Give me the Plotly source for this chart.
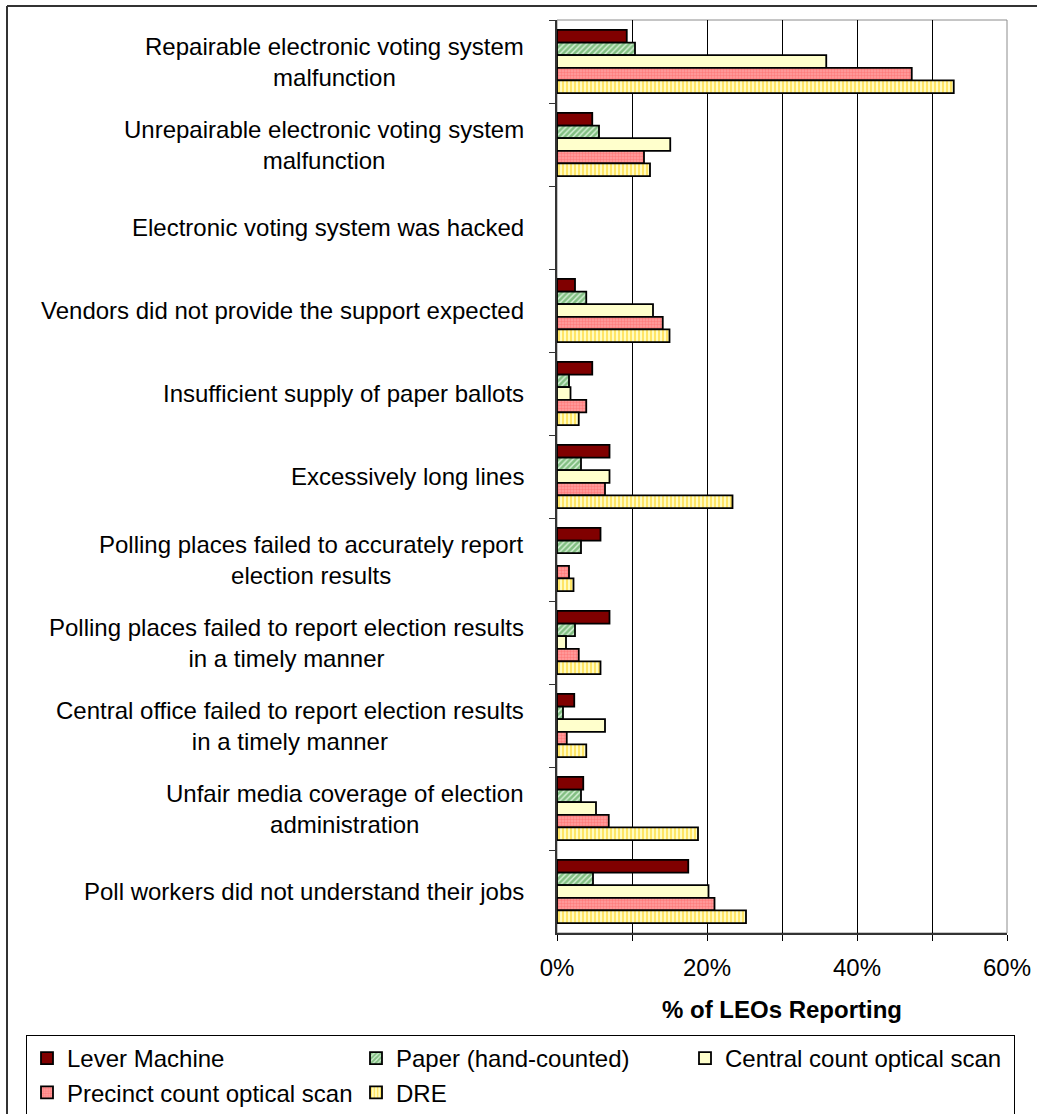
import plotly.graph_objects as go

categories = [
    "Repairable electronic voting system<br>malfunction",
    "Unrepairable electronic voting system<br>malfunction",
    "Electronic voting system was hacked",
    "Vendors did not provide the support expected",
    "Insufficient supply of paper ballots",
    "Excessively long lines",
    "Polling places failed to accurately report<br>election results",
    "Polling places failed to report election results<br>in a timely manner",
    "Central office failed to report election results<br>in a timely manner",
    "Unfair media coverage of election<br>administration",
    "Poll workers did not understand their jobs",
]

series_names = [
    "Lever Machine",
    "Paper (hand-counted)",
    "Central count optical scan",
    "Precinct count optical scan",
    "DRE",
]

lever = [9.3, 4.7, 0, 2.4, 4.7, 7.0, 5.8, 7.0, 2.3, 3.5, 17.5]
paper = [10.4, 5.6, 0, 3.9, 1.6, 3.2, 3.2, 2.4, 0.8, 3.2, 4.8]
central = [35.9, 15.1, 0, 12.8, 1.8, 7.0, 0, 1.2, 6.4, 5.2, 20.2]
precinct = [47.3, 11.6, 0, 14.1, 3.9, 6.4, 1.6, 2.9, 1.3, 6.9, 21.0]
dre = [52.9, 12.4, 0, 15.0, 2.9, 23.4, 2.2, 5.8, 3.9, 18.8, 25.2]

x_tickvals = [0, 10, 20, 30, 40, 50, 60]
x_ticktext = ["0%", "", "20%", "", "40%", "", "60%"]

FONT = "Liberation Sans, Arial, sans-serif"

styles = [
    dict(color="#800000"),
    dict(color="#FFFFFF", pattern=dict(shape="/", fgcolor="#2E8B2E", bgcolor="#D8F2D8", size=4, solidity=0.65)),
    dict(color="#FFFFCC"),
    dict(color="#FF8080", pattern=dict(shape=".", fgcolor="#FF5A5A", bgcolor="#FFA0A0", size=3, solidity=0.5)),
    dict(color="#FFFFFF", pattern=dict(shape="|", fgcolor="#FFCC00", bgcolor="#FFFFCC", size=4, solidity=0.55)),
]

values = [lever, paper, central, precinct, dre]

fig = go.Figure()
for name, vals, st in zip(series_names, values, styles):
    marker = dict(line=dict(color="#000000", width=[0 if v == 0 else 1.8 for v in vals]))
    marker.update(st)
    fig.add_trace(go.Bar(
        name=name, y=categories, x=vals, orientation="h", marker=marker,
    ))

annotations = []
for c in categories:
    annotations.append(dict(
        x=0, xref="paper", xanchor="right", xshift=-31,
        y=c, yref="y", text=c, showarrow=False, align="center",
        font=dict(family=FONT, size=24, color="#000000"),
    ))

L, R, T, B = 557, 30, 20, 181
W, H = 1037, 1114
pw = W - L - R
ph = H - T - B

def px_x(p):
    return (p - L) / pw

def px_y(p):
    return (H - B - p) / ph

shapes = [
    # plot area border (grey)
    dict(type="rect", xref="paper", yref="paper", x0=0, x1=1, y0=0, y1=1,
         line=dict(color="#8C8C8C", width=1), layer="below"),
    # outer chart border (left and top edges; the rest lies outside the page)
    dict(type="line", xref="paper", yref="paper",
         x0=px_x(7), x1=px_x(7), y0=px_y(1125), y1=px_y(6),
         line=dict(color="#333333", width=2), layer="above"),
    dict(type="line", xref="paper", yref="paper",
         x0=px_x(7), x1=px_x(1045), y0=px_y(6), y1=px_y(6),
         line=dict(color="#333333", width=2), layer="above"),
]

fig.update_layout(
    width=W, height=H,
    margin=dict(l=L, r=R, t=T, b=B, autoexpand=False),
    paper_bgcolor="#FFFFFF", plot_bgcolor="#FFFFFF",
    barmode="group", bargap=0.24, bargroupgap=0,
    font=dict(family=FONT, size=24, color="#000000"),
    showlegend=True,
    legend=dict(
        orientation="h", x=px_x(26), y=px_y(1035), xanchor="left", yanchor="top",
        bordercolor="#000000", borderwidth=1, bgcolor="#FFFFFF",
        entrywidth=284, traceorder="normal",
        font=dict(family=FONT, size=24, color="#000000"),
    ),
    annotations=annotations,
    shapes=shapes,
)

fig.update_xaxes(
    range=[0, 60], tickvals=x_tickvals, ticktext=x_ticktext,
    showgrid=True, gridcolor="#000000", gridwidth=1,
    ticks="outside", ticklen=6, tickcolor="#000000", tickwidth=1,
    showline=True, linecolor="#333333", linewidth=2,
    ticklabelstandoff=6,
    tickfont=dict(family=FONT, size=24, color="#000000"),
    title=dict(text="<b>% of LEOs Reporting</b>", standoff=21,
               font=dict(family=FONT, size=24, color="#000000")),
    zeroline=False, automargin=False, fixedrange=True,
)

fig.update_yaxes(
    type="category", categoryorder="array", categoryarray=categories,
    autorange="reversed",
    showticklabels=False, tickson="boundaries",
    ticks="outside", ticklen=6, tickcolor="#333333", tickwidth=1,
    showline=True, linecolor="#333333", linewidth=2,
    showgrid=False, zeroline=False, automargin=False, fixedrange=True,
)

fig.write_html(
    "out.html",
    config={"displayModeBar": False},
    post_script="document.body.style.margin='0';document.body.style.overflow='hidden';",
)
